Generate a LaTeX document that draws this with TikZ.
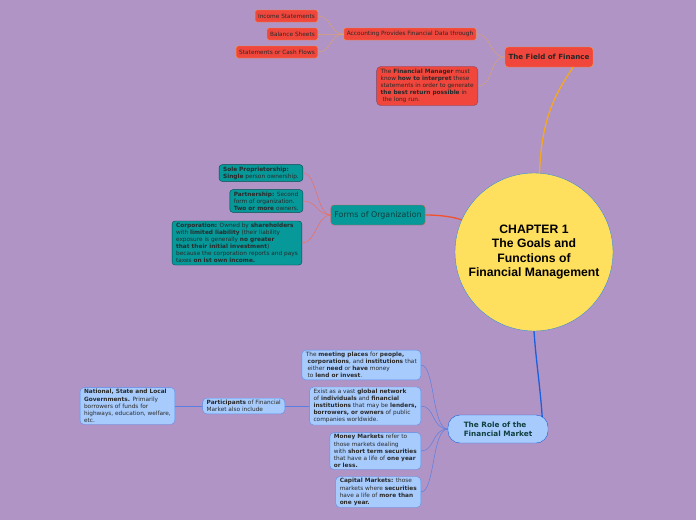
\documentclass[tikz,border=0pt]{standalone}
\usepackage{fontspec}
\setmainfont{DejaVu Sans}
\newfontfamily\arialfont{Liberation Sans}
\usetikzlibrary{positioning,calc}
\definecolor{bgpurple}{HTML}{B094C6}
\definecolor{tomatofill}{HTML}{F0463C}
\definecolor{tomatoline}{HTML}{F49A3A}
\definecolor{noteline}{HTML}{7A4868}
\definecolor{tealfill}{HTML}{079899}
\definecolor{tealline}{HTML}{E0604A}
\definecolor{tealtext}{HTML}{0F3F3F}
\definecolor{skyfill}{HTML}{A7CBFC}
\definecolor{skyline}{HTML}{5C8EEA}
\definecolor{suncore}{HTML}{FFDF5E}
\definecolor{sunline}{HTML}{3A8FD8}
\definecolor{goldedge}{HTML}{F5A81E}
\definecolor{tanedge}{HTML}{DDA070}
\definecolor{rustedge}{HTML}{F0522E}
\definecolor{salmonedge}{HTML}{E87060}
\definecolor{royaledge}{HTML}{1A5FDC}
\definecolor{bluedge}{HTML}{5A7FE0}
\definecolor{inktext}{HTML}{2A2A2A}

\tikzset{
 smallfont/.style={font=\fontsize{5.8}{7.1}\selectfont},
 redleaf/.style={smallfont,rounded corners=2pt,draw=tomatoline,fill=tomatofill,
  text=inktext,inner xsep=3pt,inner ysep=1pt,minimum height=12pt},
 rednote/.style={smallfont,rounded corners=4pt,draw=noteline,fill=tomatofill,
  text=inktext,align=left,inner xsep=4pt,inner ysep=2.5pt},
 tealleaf/.style={smallfont,rounded corners=3pt,draw=teal!60!black,fill=tealfill,
  text=inktext,align=left,inner xsep=4pt,inner ysep=2pt},
 blueleaf/.style={smallfont,rounded corners=4pt,draw=skyline,fill=skyfill,
  text=inktext,align=left,inner xsep=4pt,inner ysep=2pt},
 branch/.style={font=\bfseries\fontsize{7.1}{8.6}\selectfont,rounded corners=3pt,
  minimum height=20pt,inner xsep=3.5pt},
 twig/.style={line width=0.5pt},
}

\begin{document}
\begin{tikzpicture}[x=1pt,y=-1pt]
\fill[bgpurple] (0,0) rectangle (696,520);

% main topic
\node[circle,draw=sunline,fill=suncore,minimum size=158pt,align=center,
 font=\arialfont\bfseries\fontsize{12.2}{14.2}\selectfont] (chapter) at (534,252)
 {CHAPTER 1\\The Goals and\\Functions of\\Financial Management};

% the field of finance
\node[branch,draw=tomatoline,fill=tomatofill,text=black!85] (field) at (549,57) {The Field of Finance};
\node[redleaf] (accounting) at (410,34) {Accounting Provides Financial Data through};
\node[redleaf,anchor=east] (income) at (318,16) {Income Statements};
\node[redleaf,anchor=east] (balance) at (318,34) {Balance Sheets};
\node[redleaf,anchor=east] (cashflow) at (318,52) {Statements or Cash Flows};
\node[rednote,anchor=east] (manager) at (478,86)
 {The \textbf{Financial Manager} must\\know \textbf{how to interpret} these\\statements in order to generate\\\textbf{the best return possible} in\\\ the long run.};

% forms of organization
\node[branch,draw=tealline,fill=tealfill,text=tealtext,font=\fontsize{7.9}{9}\selectfont] (forms) at (378,215) {Forms of Organization};
\node[tealleaf,anchor=east] (sole) at (303,173)
 {\textbf{Sole Proprietorship:}\\\textbf{Single} person ownership.};
\node[tealleaf,anchor=east] (partner) at (303,201)
 {\textbf{Partnership:} Second\\form of organization.\\\textbf{Two or more} owners.};
\node[tealleaf,anchor=east] (corporation) at (302,243)
 {\textbf{Corporation:} Owned by \textbf{shareholders}\\with \textbf{limited liability} (their liability\\exposure is generally \textbf{no greater}\\\textbf{that their initial investment})\\because the corporation reports and pays\\taxes \textbf{on ist own income.}};

% the role of the financial market
\node[draw=royaledge,fill=skyfill,text=tealtext,rounded corners=12pt,minimum width=100pt,
 minimum height=28pt,align=left,font=\bfseries\fontsize{7.3}{9}\selectfont] (role) at (498,429)
 {The Role of the\\Financial Market};
\node[blueleaf,anchor=east] (meeting) at (421,365)
 {The \textbf{meeting places} for \textbf{people,}\\\ \textbf{corporations}, and \textbf{institutions} that\\\ either \textbf{need} or \textbf{have} money\\\ to \textbf{lend or invest}.};
\node[blueleaf,anchor=east] (network) at (421,406)
 {Exist as a vast \textbf{global network}\\of \textbf{individuals} and \textbf{financial}\\\textbf{institutions} that may be \textbf{lenders,}\\\textbf{borrowers, or owners} of public\\companies worldwide.};
\node[blueleaf,anchor=east] (money) at (421,451)
 {\textbf{Money Markets} refer to\\those markets dealing\\with \textbf{short term securities}\\that have a life of \textbf{one year}\\\textbf{or less.}};
\node[blueleaf,anchor=east] (capital) at (421,492)
 {\textbf{Capital Markets:} those\\markets where \textbf{securities}\\have a life of \textbf{more than}\\\textbf{one year.}};
\node[blueleaf,anchor=east] (participants) at (285,406)
 {\textbf{Participants} of Financial\\Market also include};
\node[blueleaf,anchor=east] (government) at (175,406)
 {\textbf{National, State and Local}\\\textbf{Governments.} Primarily\\borrowers of funds for\\highways, education, welfare,\\etc.};

% main branches
\draw[goldedge,line width=1.3pt] (chapter.86) .. controls +(2,-60) and +(-14,22) .. ([xshift=24pt]field.south);
\draw[rustedge,line width=1.3pt] (chapter.156) .. controls +(-12,-4) and +(10,0) .. (forms.east);
\draw[royaledge,line width=1.3pt] (chapter.south) .. controls +(2,30) and +(-2,-30) .. ([xshift=-6pt,yshift=-2pt]role.north east);

% sub branches
\foreach \leaf in {accounting,manager}
 \draw[tanedge,twig] (field.west) .. controls +(-16,0) and +(16,0) .. (\leaf.east);
\foreach \leaf in {income,balance,cashflow}
 \draw[tanedge,twig] (accounting.west) .. controls +(-14,0) and +(14,0) .. (\leaf.east);
\foreach \leaf in {sole,partner,corporation}
 \draw[salmonedge,twig] (forms.west) .. controls +(-14,0) and +(14,0) .. (\leaf.east);
\foreach \leaf in {meeting,network,money,capital}
 \draw[bluedge,twig] (role.west) .. controls +(-16,0) and +(14,0) .. (\leaf.east);
\draw[bluedge,twig] (network.west) -- (participants.east);
\draw[bluedge,twig] (participants.west) -- (government.east);
\end{tikzpicture}
\end{document}
